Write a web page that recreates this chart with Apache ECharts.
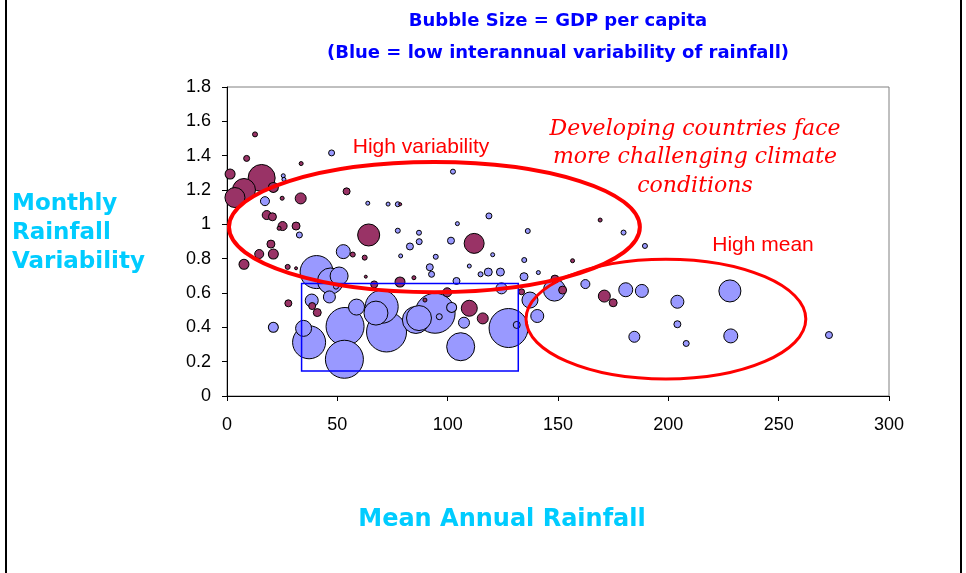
<!DOCTYPE html>
<html><head><meta charset="utf-8">
<script src="https://cdn.jsdelivr.net/npm/echarts@6/dist/echarts.min.js"></script>
<style>html,body{margin:0;padding:0;background:#fff}#c{width:966px;height:573px}</style>
</head><body><div id="c"></div>
<script>
// Blue = low interannual variability of rainfall
const rainfallBlue = [
  25.5, 25.8, 17.2, 32.8, 47.4, 63.8, 73.0, 77.4, 77.4, 87.0,
  102.4, 104.4, 118.7, 87.1, 101.5, 82.9, 78.7, 94.6, 120.4, 109.8,
  91.9, 92.7, 118.4, 123.9, 114.9, 52.7, 40.6, 46.9, 50.8, 49.4,
  104.0, 46.4, 38.4, 21.0, 70.1, 94.3, 96.2, 101.8, 85.6, 87.0,
  34.7, 37.2, 53.5, 72.3, 53.2, 58.7, 67.5, 124.4, 107.4, 127.6,
  131.3, 105.9, 134.7, 141.1, 134.6, 137.3, 140.6, 148.4, 162.4, 180.7,
  188.0, 184.6, 204.1, 204.1, 208.1, 189.4, 179.7, 136.3, 227.9, 228.3, 272.8
];
const variabilityBlue = [
  1.283, 1.262, 1.135, 0.938, 1.416, 1.123, 1.118, 1.117, 0.963, 0.951,
  1.307, 1.004, 1.049, 0.899, 0.905, 0.871, 0.816, 0.811, 0.823, 0.757,
  0.750, 0.709, 0.722, 0.722, 0.709, 0.841, 0.722, 0.670, 0.699, 0.637,
  0.670, 0.577, 0.556, 0.400, 0.520, 0.482, 0.462, 0.516, 0.443, 0.454,
  0.394, 0.313, 0.405, 0.373, 0.214, 0.518, 0.483, 0.627, 0.427, 0.396,
  0.414, 0.287, 0.792, 0.719, 0.695, 0.559, 0.466, 0.617, 0.652, 0.619,
  0.612, 0.345, 0.549, 0.418, 0.306, 0.874, 0.952, 0.961, 0.612, 0.350, 0.355
];
const gdpBlue = [
  0.38, 0.38, 1.92, 0.85, 0.85, 0.38, 0.38, 0.59, 0.59, 0.59,
  0.59, 0.38, 0.85, 0.85, 1.16, 1.16, 0.38, 0.59, 0.38, 0.38,
  1.16, 0.85, 1.51, 1.51, 0.59, 4.64, 25.8, 16.0, 7.67, 0.59,
  1.16, 3.41, 4.0, 2.37, 25.8, 37.9, 0.85, 2.37, 17.3, 14.8,
  6.06, 25.8, 34.2, 37.9, 34.2, 6.06, 13.6, 2.86, 2.86, 36.0,
  1.16, 18.6, 0.59, 0.38, 1.51, 6.06, 4.0, 11.5, 1.92, 4.64,
  4.0, 2.86, 4.0, 1.16, 0.85, 0.59, 0.59, 0.59, 11.5, 4.64, 1.16
];
// Purple = high interannual variability
const rainfallPurple = [
  12.7, 8.9, 1.4, 15.7, 7.7, 3.6, 21.0, 25.0, 33.4, 33.6,
  18.0, 20.6, 25.2, 23.6, 31.3, 54.2, 64.2, 78.5, 112.0, 19.9,
  14.6, 21.0, 7.7, 27.5, 31.3, 57.0, 62.4, 62.9, 78.4, 84.7,
  66.7, 99.8, 27.8, 38.6, 40.9, 89.7, 109.8, 115.9, 133.5, 169.1,
  156.6, 148.6, 152.1, 171.0, 175.0
];
const variabilityPurple = [
  1.524, 1.384, 1.293, 1.270, 1.200, 1.156, 1.215, 1.152, 1.151, 1.354,
  1.054, 1.044, 0.990, 0.977, 0.990, 1.192, 0.938, 1.117, 0.889, 0.885,
  0.827, 0.827, 0.767, 0.752, 0.744, 0.824, 0.806, 0.695, 0.664, 0.689,
  0.650, 0.604, 0.540, 0.524, 0.486, 0.559, 0.511, 0.452, 0.607, 1.025,
  0.788, 0.681, 0.617, 0.582, 0.543
];
const gdpPurple = [
  0.59, 0.85, 2.37, 17.3, 12.5, 9.47, 2.37, 0.38, 2.86, 0.38,
  1.92, 1.51, 1.92, 0.38, 1.51, 1.16, 11.5, 0.21, 9.47, 1.51,
  1.92, 2.37, 2.37, 0.59, 0.21, 0.59, 0.59, 0.21, 2.37, 0.38,
  1.16, 1.92, 1.16, 1.16, 1.51, 0.38, 6.06, 2.86, 0.85, 0.38,
  0.38, 1.51, 1.51, 3.41, 1.51
];
const xTicks = [0, 50, 100, 150, 200, 250, 300];
const yTicks = [0, 0.2, 0.4, 0.6, 0.8, 1, 1.2, 1.4, 1.6, 1.8];

function buildData(xs, ys, gs) {
  const idx = xs.map((_, i) => i).sort((a, b) => gs[b] - gs[a]);
  return idx.map(i => [xs[i], ys[i], gs[i]]);
}
const sizeFn = v => Math.sqrt(v[2]) * 6.5;

const chart = echarts.init(document.getElementById('c'), null, {renderer: 'canvas'});
chart.setOption({
  animation: false,
  grid: {left: 227, right: 77, top: 87, bottom: 177, show: true, borderColor: '#808080', borderWidth: 1, backgroundColor: 'transparent'},
  xAxis: {
    type: 'value', min: xTicks[0], max: xTicks[xTicks.length - 1], interval: 50,
    axisLine: {show: true, onZero: false, lineStyle: {color: '#000', width: 1}},
    axisTick: {show: true, length: 5, lineStyle: {color: '#000'}},
    axisLabel: {margin: 20, fontSize: 18, color: '#000', fontFamily: 'Liberation Sans'},
    splitLine: {show: false}
  },
  yAxis: {
    type: 'value', min: yTicks[0], max: yTicks[yTicks.length - 1], interval: 0.2,
    axisLine: {show: true, onZero: false, lineStyle: {color: '#000', width: 1}},
    axisTick: {show: true, length: 5, lineStyle: {color: '#000'}},
    axisLabel: {margin: 16, fontSize: 18, color: '#000', fontFamily: 'Liberation Sans'},
    splitLine: {show: false}
  },
  series: [
    {type: 'scatter', name: 'Low variability', data: buildData(rainfallBlue, variabilityBlue, gdpBlue),
     symbolSize: sizeFn, itemStyle: {color: '#9999ff', borderColor: '#000', borderWidth: 1, opacity: 1}},
    {type: 'scatter', name: 'High variability', data: buildData(rainfallPurple, variabilityPurple, gdpPurple),
     symbolSize: sizeFn, itemStyle: {color: '#993366', borderColor: '#000', borderWidth: 1, opacity: 1}}
  ]
});

const P = (x, y) => chart.convertToPixel({gridIndex: 0}, [x, y]);
const c1 = P(94.0, 0.984), e1 = P(94.0 + 93.1, 0.984 + 0.379);
const c2 = P(198.9, 0.448), e2 = P(198.9 + 63.4, 0.448 + 0.349);
const r1 = P(33.8, 0.656), r2 = P(132.0, 0.146);

function txt(text, x, y, font, fill, align) {
  return {type: 'text', z: 100, silent: true, style: {text: text, x: x, y: y, font: font, fill: fill,
    textAlign: align || 'center', align: align || 'center', textVerticalAlign: 'middle', verticalAlign: 'middle'}};
}

chart.setOption({
  graphic: [
    {type: 'line', z: 100, shape: {x1: 6, y1: 0, x2: 6, y2: 573}, style: {stroke: '#000', lineWidth: 2}},
    {type: 'line', z: 100, shape: {x1: 961, y1: 0, x2: 961, y2: 573}, style: {stroke: '#000', lineWidth: 2}},
    {type: 'rect', z: 90, shape: {x: r1[0], y: r1[1], width: r2[0] - r1[0], height: r2[1] - r1[1]},
     style: {fill: 'none', stroke: '#0000ff', lineWidth: 1.5}},
    {type: 'ellipse', z: 95, shape: {cx: c1[0], cy: c1[1], rx: e1[0] - c1[0], ry: c1[1] - e1[1]},
     style: {fill: 'none', stroke: '#ff0000', lineWidth: 4}},
    {type: 'ellipse', z: 95, shape: {cx: c2[0], cy: c2[1], rx: e2[0] - c2[0], ry: c2[1] - e2[1]},
     style: {fill: 'none', stroke: '#ff0000', lineWidth: 3}},
    txt('Bubble Size = GDP per capita', 558, 21, 'bold 18px "DejaVu Sans"', '#0000ff'),
    txt('(Blue = low interannual variability of rainfall)', 558, 53, 'bold 18px "DejaVu Sans"', '#0000ff'),
    {type: 'text', z: 100, silent: true, style: {text: 'Monthly\nRainfall\nVariability', x: 12, y: 190,
      font: 'bold 23px "DejaVu Sans"', fill: '#00ccff', textAlign: 'left', align: 'left', textVerticalAlign: 'top', verticalAlign: 'top', lineHeight: 29}},
    txt('Mean Annual Rainfall', 502, 520, 'bold 24px "DejaVu Sans"', '#00ccff'),
    txt('High variability', 421, 147, '21px "Liberation Sans"', '#ff0000'),
    txt('High mean', 763, 245, '21px "Liberation Sans"', '#ff0000'),
    {type: 'text', z: 100, silent: true, style: {text: 'Developing countries face\nmore challenging climate\nconditions', x: 695, y: 115,
      font: 'italic 22px "DejaVu Serif"', fill: '#ff0000', textAlign: 'center', align: 'center', textVerticalAlign: 'top', verticalAlign: 'top', lineHeight: 28.5}}
  ]
});
</script>
</body></html>
